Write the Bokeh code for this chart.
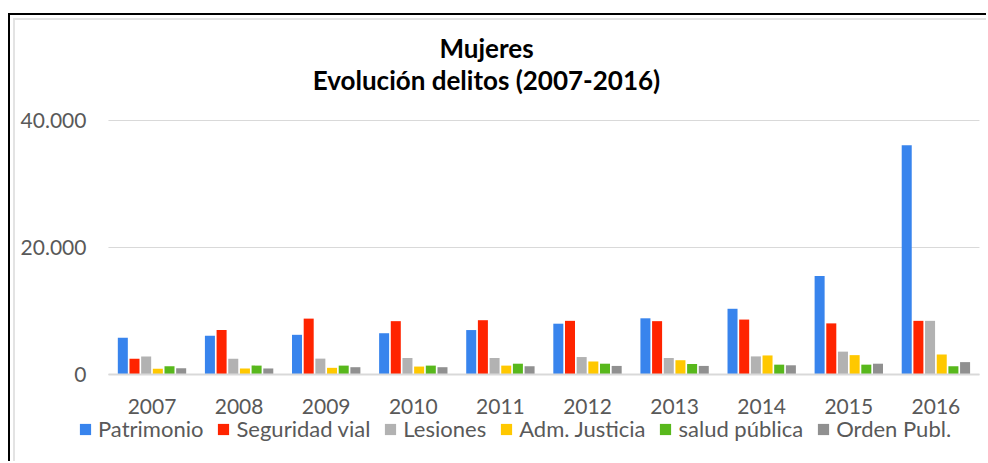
from bokeh.plotting import figure
from bokeh.models import (ColumnDataSource, Range1d, FixedTicker, Label, Legend, LegendItem)
from bokeh.transform import dodge
from bokeh.embed import file_html
from bokeh.resources import INLINE

years = ["2007", "2008", "2009", "2010", "2011", "2012", "2013", "2014", "2015", "2016"]
patrimonio = [5800, 6100, 6250, 6500, 7000, 8000, 8850, 10350, 15500, 36100]
seguridad_vial = [2500, 7000, 8800, 8400, 8550, 8450, 8400, 8650, 8050, 8450]
lesiones = [2850, 2500, 2500, 2600, 2600, 2750, 2600, 2850, 3600, 8450]
adm_justicia = [900, 950, 1050, 1250, 1400, 2050, 2250, 3000, 3050, 3150]
salud_publica = [1300, 1400, 1400, 1400, 1700, 1700, 1650, 1550, 1550, 1300]
orden_publ = [1000, 950, 1150, 1150, 1300, 1350, 1350, 1450, 1700, 1950]

series_names = ["Patrimonio", "Seguridad vial", "Lesiones", "Adm. Justicia", "salud pública", "Orden Publ."]
series_keys = ["patrimonio", "seguridad_vial", "lesiones", "adm_justicia", "salud_publica", "orden_publ"]
colors = ["#3884ED", "#FF2400", "#B2B2B2", "#FFC800", "#58B81C", "#909090"]

y_ticks = [0, 20000, 40000]
y_tick_labels = ["0", "20.000", "40.000"]

title_line1 = "Mujeres"
title_line2 = "Evolución delitos (2007-2016)"

x_idx = list(range(len(years)))
source = ColumnDataSource(dict(
    x=x_idx,
    year=years,
    patrimonio=patrimonio,
    seguridad_vial=seguridad_vial,
    lesiones=lesiones,
    adm_justicia=adm_justicia,
    salud_publica=salud_publica,
    orden_publ=orden_publ,
))

FONT = "Lato"
TXT = "#595959"

# canvas 978 x 448; plot frame fills the whole canvas
W, H = 978, 448
px_per_cat = 87.1
cat0_px = 141.5
zero_px = 359      # from top
top_px = 105       # 40000 line from top
x_start = -cat0_px / px_per_cat
x_end = x_start + W / px_per_cat
u = 40000 / (zero_px - top_px)
y_start = -(H - zero_px) * u
y_end = 40000 + top_px * u

p = figure(
    x_range=Range1d(x_start, x_end),
    y_range=Range1d(y_start, y_end),
    width=W, height=H,
    output_backend="svg", toolbar_location=None,
    min_border=0,
)
p.styles = {
    "margin-left": "8px",
    "margin-top": "13px",
    "border-left": "2px solid #000000",
    "border-top": "2px solid #000000",
    "box-shadow": "inset 3px 3px 0 0 #ffffff, inset 5px 5px 0 0 #e3e3e3",
}
p.border_fill_color = None
p.background_fill_color = None
p.outline_line_color = None
p.xgrid.visible = False
p.ygrid.visible = False

x_lo = -0.5
x_hi = len(years) - 0.5

# horizontal gridlines
p.segment(x0=[x_lo] * len(y_ticks), x1=[x_hi] * len(y_ticks), y0=y_ticks, y1=y_ticks,
          line_color="#d9d9d9", line_width=1)

pitch = 0.134
bw = 0.115
items = []
for i, (key, name, col) in enumerate(zip(series_keys, series_names, colors)):
    off = (i - 2.5) * pitch
    r = p.vbar(x=dodge("x", off), top=key, width=bw, source=source,
               fill_color=col, line_color=None)
    items.append(LegendItem(label=name, renderers=[r]))

xa = p.xaxis[0]
xa.fixed_location = 0
xa.bounds = (x_lo, x_hi)
xa.ticker = FixedTicker(ticks=x_idx)
xa.major_label_overrides = {i: y for i, y in zip(x_idx, years)}
xa.axis_line_color = "#d9d9d9"
xa.axis_line_width = 2
xa.major_tick_line_color = None
xa.minor_tick_line_color = None
xa.major_tick_out = 0
xa.major_tick_in = 0
xa.major_label_standoff = 24
xa.major_label_text_font = FONT
xa.major_label_text_font_size = "21px"
xa.major_label_text_color = TXT

ya = p.yaxis[0]
ya.fixed_location = x_lo
ya.ticker = FixedTicker(ticks=y_ticks)
ya.major_label_overrides = {t: l for t, l in zip(y_ticks, y_tick_labels)}
ya.axis_line_color = None
ya.major_tick_line_color = None
ya.minor_tick_line_color = None
ya.major_tick_out = 0
ya.major_tick_in = 0
ya.major_label_standoff = 22
ya.major_label_text_font = FONT
ya.major_label_text_font_size = "21px"
ya.major_label_text_color = TXT

lg = Legend(items=items, orientation="horizontal", location=(68, 21),
            background_fill_alpha=0, border_line_color=None, padding=0, margin=0,
            spacing=13, label_standoff=6, glyph_width=14, glyph_height=14,
            label_text_font=FONT, label_text_font_size="22px", label_text_color=TXT)
p.add_layout(lg)

for txt, yy in [(title_line1, H - 47 + 15), (title_line2, H - 79 + 15)]:
    p.add_layout(Label(x=476, y=yy, x_units="screen", y_units="screen", text=txt,
                       text_align="center", text_baseline="middle",
                       text_font=FONT, text_font_style="bold",
                       text_font_size="26px", text_color="#000000"))

open("out.html", "w").write(file_html(p, INLINE))
